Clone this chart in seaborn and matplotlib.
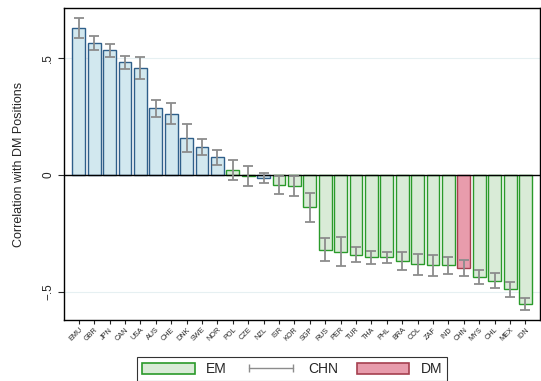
import numpy as np
import pandas as pd
import matplotlib
matplotlib.use("Agg")
import matplotlib.pyplot as plt
import seaborn as sns
from matplotlib.patches import Patch
from matplotlib.lines import Line2D

countries = ["EMU", "GBR", "JPN", "CAN", "USA", "AUS", "CHE", "DNK", "SWE", "NOR",
             "POL", "CZE", "NZL", "ISR", "KOR", "SGP", "RUS", "PER", "TUR", "THA",
             "PHL", "BRA", "COL", "ZAF", "IND", "CHN", "MYS", "CHL", "MEX", "IDN"]
values = [0.63, 0.563, 0.533, 0.482, 0.459, 0.285, 0.262, 0.157, 0.12, 0.076,
          0.023, -0.005, -0.013, -0.044, -0.048, -0.138, -0.319, -0.328, -0.34, -0.352,
          -0.352, -0.369, -0.382, -0.386, -0.386, -0.397, -0.436, -0.453, -0.489, -0.553]
errors = [0.043, 0.030, 0.027, 0.027, 0.047, 0.035, 0.046, 0.059, 0.033, 0.033,
          0.043, 0.043, 0.023, 0.039, 0.042, 0.061, 0.050, 0.061, 0.032, 0.028,
          0.025, 0.038, 0.046, 0.046, 0.037, 0.033, 0.031, 0.032, 0.032, 0.026]
groups = ["DM"] * 10 + ["EM", "EM", "DM"] + ["EM"] * 12 + ["CHN"] + ["EM"] * 4

fills = {"DM": "#d2e8ef", "EM": "#d9ebd7", "CHN": "#e89cac"}
edges = {"DM": "#2f5f8a", "EM": "#2a9a2a", "CHN": "#a5404f"}

df = pd.DataFrame({"country": countries, "value": values, "err": errors, "group": groups})

sns.set_style("ticks")
plt.rcParams["font.family"] = ["Liberation Sans", "DejaVu Sans"]

fig = plt.figure(figsize=(5.41, 3.81), dpi=100)
ax = fig.add_axes([0.118, 0.160, 0.880, 0.819])

sns.barplot(data=df, x="country", y="value", hue="group", palette=fills,
            dodge=False, width=0.84, ax=ax, legend=False, order=countries,
            linewidth=1.0)

for patch in ax.patches:
    w = patch.get_width()
    if w == 0:
        continue
    xc = patch.get_x() + w / 2
    idx = int(round(xc))
    if 0 <= idx < len(groups):
        patch.set_edgecolor(edges[groups[idx]])
        patch.set_facecolor(fills[groups[idx]])
        patch.set_linewidth(1.0)

xs = np.arange(len(countries))
ax.errorbar(xs, df["value"], yerr=df["err"], fmt="none", ecolor="#8c8c8c",
            elinewidth=1.3, capsize=3.5, capthick=1.3, zorder=5)

ax.axhline(0, color="black", lw=1.0, zorder=4)
for yv in (0.5, -0.5):
    ax.axhline(yv, color="#e6f0f2", lw=0.8, zorder=0)

ax.set_xlim(-0.97, 29.94)
ax.set_ylim(-0.62, 0.714)
ax.set_yticks([-0.5, 0, 0.5])
ax.set_yticklabels(["\u2212.5", "0", ".5"], rotation=90, va="center", fontsize=8.5)
ax.set_xticks(xs)
ax.set_xticklabels(countries, rotation=45, ha="right", rotation_mode="anchor", fontsize=5.2)
ax.tick_params(axis="x", length=3, width=0.8, pad=1.5)
ax.tick_params(axis="y", length=4, width=0.8, pad=3)
ax.set_xlabel("")
ax.set_ylabel("Correlation with DM Positions", fontsize=9, labelpad=12)
for s in ax.spines.values():
    s.set_visible(True)
    s.set_color("black")
    s.set_linewidth(1.0)

handles = [Patch(facecolor=fills["EM"], edgecolor=edges["EM"], lw=1.2, label="EM"),
           Line2D([], [], color="#8c8c8c", lw=1.0, marker="|", markersize=6, label="CHN"),
           Patch(facecolor=fills["CHN"], edgecolor=edges["CHN"], lw=1.2, label="DM")]
leg = fig.legend(handles=handles, loc="upper left", bbox_to_anchor=(137 / 541, 0.062),
                 ncol=3, frameon=True, fancybox=False, edgecolor="black", fontsize=10,
                 handlelength=3.8, handleheight=0.9, numpoints=2, columnspacing=1.3,
                 borderpad=0.35, handletextpad=0.8, borderaxespad=0)
leg.get_frame().set_linewidth(0.8)

fig.savefig("out.png", dpi=100)
